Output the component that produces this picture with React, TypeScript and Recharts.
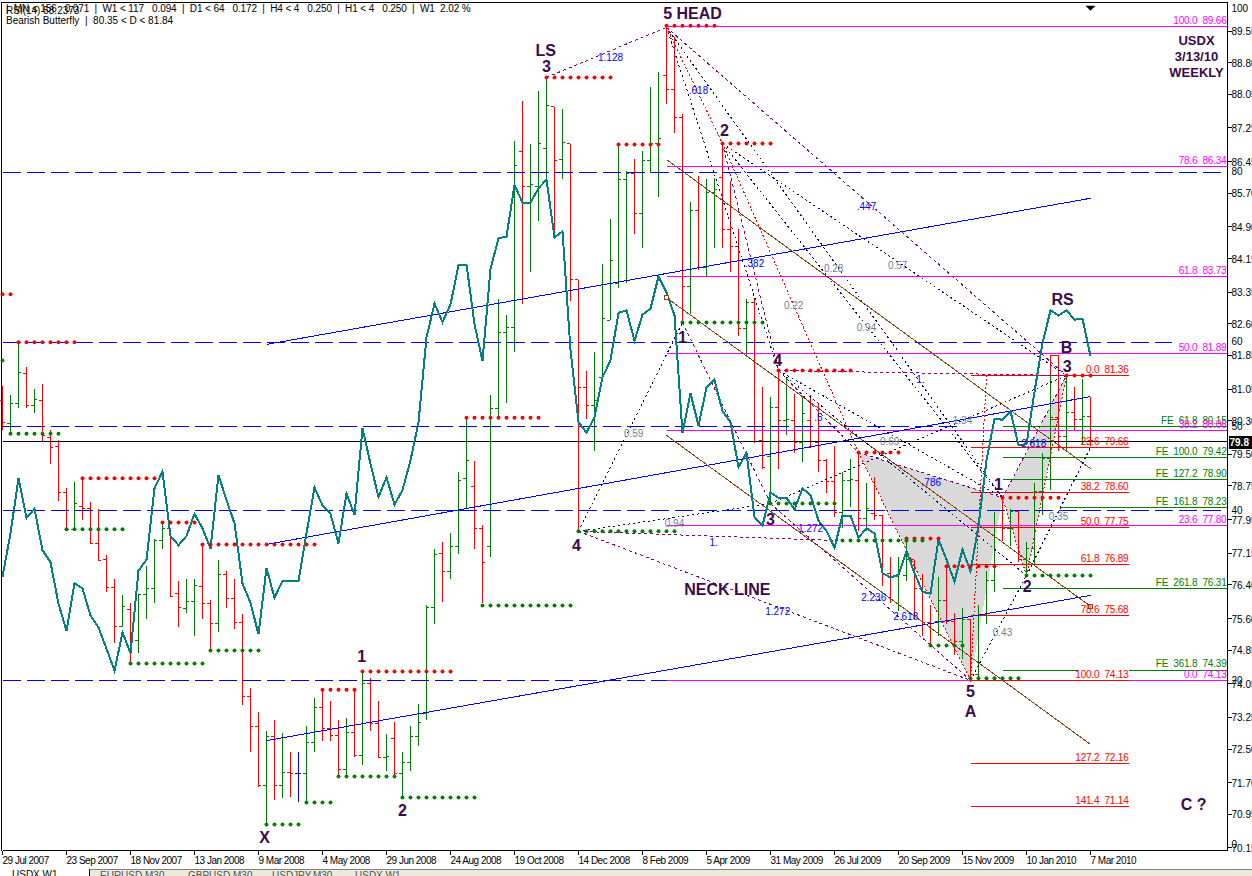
// USDX weekly bars with RSI overlay, harmonic legs and fib levels
import {
  Area,
  Bar,
  ComposedChart,
  Line,
  ReferenceArea,
  ReferenceDot,
  ReferenceLine,
  Scatter,
  XAxis,
  YAxis,
} from "recharts";

const dateLabels = [
  "29 Jul 2007", "23 Sep 2007", "18 Nov 2007", "13 Jan 2008", "9 Mar 2008", "4 May 2008",
  "29 Jun 2008", "24 Aug 2008", "19 Oct 2008", "14 Dec 2008", "8 Feb 2009", "5 Apr 2009",
  "31 May 2009", "26 Jul 2009", "20 Sep 2009", "15 Nov 2009", "10 Jan 2010", "7 Mar 2010",
];
const dateTicks = [0, 8, 16, 24, 32, 40, 48, 56, 64, 72, 80, 88, 96, 104, 112, 120, 128, 136];

const priceTicks = [
  89.55, 88.8, 88.05, 87.25, 86.45, 85.7, 84.9, 84.15, 83.35, 82.6, 81.85, 81.05, 80.3,
  79.5, 78.75, 77.95, 77.15, 76.4, 75.6, 74.85, 74.05, 73.25, 72.5, 71.7, 70.95, 70.15,
];
const rsiTicks = [100, 80, 60, 50, 40, 20, 0];

const opens = [
  80.78,80.23,80.71,81.42,80.66,80.78,79.90,79.69,78.59,77.72,
  78.26,78.21,77.38,77.00,76.34,75.41,75.82,75.08,76.17,76.31,
  77.45,77.74,76.19,75.84,76.00,76.36,75.96,75.48,76.65,76.08,
  75.51,73.75,73.04,71.64,72.80,71.64,71.94,71.92,71.92,72.66,
  73.49,72.99,72.82,72.02,72.89,72.35,74.06,73.11,72.30,72.75,
  71.92,72.18,72.80,73.35,75.86,77.14,76.72,77.31,78.93,78.74,
  77.74,77.31,80.59,82.39,82.51,86.69,85.86,85.86,86.76,87.76,
  86.50,86.88,83.65,81.09,80.66,81.32,82.68,83.56,86.03,86.17,
  85.22,86.48,86.88,88.50,88.16,87.50,83.48,85.29,83.94,85.72,
  86.07,84.84,84.44,82.49,83.11,79.83,79.45,80.61,80.30,80.30,
  79.78,80.30,79.78,79.35,78.85,78.12,78.88,78.88,77.98,78.09,
  78.05,76.67,76.60,76.62,77.00,76.31,75.51,75.53,76.03,75.53,
  75.05,75.58,74.27,75.70,76.50,78.17,77.74,78.14,77.00,77.26,
  78.62,79.40,80.37,79.92,80.49,80.33,80.40,
];
const highs = [
  81.13,80.92,82.16,81.58,81.06,81.16,80.07,79.85,78.71,78.85,
  78.93,78.36,78.21,77.12,76.53,76.17,75.98,76.17,76.84,77.50,
  77.88,77.74,76.48,76.53,76.53,77.36,76.03,77.00,76.72,76.53,
  75.70,73.96,73.39,72.92,73.20,72.87,72.44,72.44,73.04,73.72,
  73.91,73.63,73.18,73.23,73.94,74.34,74.18,73.65,72.85,73.15,
  72.42,73.04,73.56,75.91,77.26,77.41,77.64,79.09,80.37,79.35,
  77.81,80.92,83.18,82.82,86.93,87.88,86.88,88.14,88.45,87.76,
  87.69,86.88,83.65,81.49,81.92,84.03,85.10,86.88,86.24,86.52,
  86.71,88.23,88.57,89.68,89.40,87.59,85.50,86.12,86.03,86.07,
  86.88,86.00,84.86,83.18,83.20,81.09,80.87,81.49,81.32,80.94,
  80.85,80.90,80.71,79.38,79.69,79.07,79.40,79.52,78.83,78.95,
  78.07,77.07,77.07,77.41,77.00,76.65,75.91,76.58,76.84,75.74,
  75.84,75.58,75.93,76.74,78.14,78.47,78.21,78.17,77.41,78.83,
  79.52,81.40,81.85,81.35,81.11,81.28,80.87,
];
const lows = [
  80.07,80.02,80.61,80.61,80.47,79.80,79.28,78.40,77.69,77.72,
  77.95,77.38,76.98,76.22,75.01,75.39,74.53,74.77,75.60,75.96,
  77.26,76.10,75.39,75.74,75.18,75.58,74.84,75.27,75.84,75.34,
  73.54,72.44,71.59,70.73,71.30,71.33,71.37,71.25,71.23,72.42,
  72.70,72.68,71.83,71.87,72.30,72.11,72.92,72.28,71.97,71.83,
  71.35,71.99,72.58,73.20,75.48,76.00,76.53,77.14,78.19,77.24,
  75.96,77.07,80.37,80.71,81.94,83.08,83.84,85.03,86.07,84.65,
  86.05,83.13,77.64,80.35,79.57,81.32,82.68,83.44,83.56,84.74,
  84.41,86.19,85.60,87.83,87.14,82.61,82.84,83.87,83.70,84.41,
  84.41,83.84,82.32,81.85,79.76,79.16,78.33,79.16,79.95,79.52,
  79.31,79.66,79.09,78.59,78.00,77.76,78.26,77.69,77.69,77.93,
  76.38,75.98,75.79,76.48,75.58,75.18,74.96,75.18,75.46,74.74,
  74.65,74.10,74.22,75.46,76.22,77.45,77.33,76.95,76.60,76.88,
  78.05,78.66,79.57,79.57,80.07,79.73,79.69,
];
const closes = [
  80.26,80.71,81.44,80.66,80.80,79.95,79.66,78.59,77.72,78.33,
  78.21,77.38,76.98,76.34,75.41,75.89,75.08,76.17,76.31,77.45,
  77.74,76.12,75.86,76.00,76.38,75.96,75.48,76.65,76.08,75.51,
  73.75,73.04,71.64,72.80,71.64,71.94,71.92,71.92,72.66,73.49,
  72.99,72.82,72.02,72.89,72.35,74.06,73.11,72.30,72.32,71.92,
  72.18,72.80,73.13,75.86,77.12,76.72,77.31,78.88,79.35,77.74,
  76.93,80.59,82.39,82.51,86.36,85.86,85.90,86.88,87.78,86.48,
  86.90,83.65,81.09,80.66,80.78,82.73,84.10,86.03,86.17,85.22,
  86.48,86.88,87.00,88.16,87.50,83.48,85.29,83.94,85.72,85.80,
  84.84,84.44,82.49,83.11,79.80,79.19,80.61,80.30,80.33,79.78,
  80.47,79.80,79.35,78.85,78.12,78.88,78.90,77.98,78.21,78.05,
  76.67,76.60,76.74,77.00,76.31,75.51,75.48,76.03,75.53,75.05,
  75.58,74.27,75.70,76.50,77.76,77.74,78.14,77.00,77.26,78.62,
  79.40,80.37,79.92,80.49,80.33,80.40,79.83,
];
const rsiValues = [
  32.3,37.4,43.9,39.2,40.3,35.4,34.0,29.1,25.9,31.5,
  30.9,27.7,26.3,23.8,21.2,25.7,23.3,33.0,34.3,42.7,
  44.7,37.1,36.0,37.1,39.7,38.0,35.6,44.3,41.3,38.6,
  31.5,29.2,25.5,33.3,29.8,31.8,31.8,31.8,37.4,42.8,
  40.7,39.7,36.2,42.1,39.6,49.8,45.6,41.7,44.0,40.8,
  42.5,46.0,50.5,60.5,64.5,62.3,64.4,69.0,69.1,62.1,
  57.7,68.6,72.2,72.4,78.5,76.4,76.4,78.1,79.1,72.3,
  73.0,59.0,50.5,49.3,51.1,55.8,57.8,63.4,63.7,60.1,
  63.2,63.9,67.7,65.8,63.1,49.2,53.9,50.1,54.6,55.5,
  51.8,50.5,45.2,46.9,39.3,38.3,42.2,41.6,41.6,40.2,
  42.7,41.9,38.9,37.7,35.7,39.5,39.5,36.9,38.0,37.4,
  32.7,32.2,32.5,35.3,32.7,30.5,30.3,36.7,34.3,31.7,
  35.5,32.9,38.3,46.0,50.9,50.8,51.8,47.8,47.9,54.1,
  59.8,63.7,63.1,63.7,62.6,62.7,58.3,
];

// [first bar, last bar, price]
const redDotRuns = [
  [0, 1, 83.3], [2, 9, 82.16], [10, 19, 78.93], [20, 24, 77.88], [25, 39, 77.36],
  [40, 44, 73.91], [45, 56, 74.34], [58, 67, 80.37], [68, 76, 88.45], [77, 82, 86.86],
  [83, 89, 89.68], [90, 96, 86.88], [97, 106, 81.49], [107, 112, 79.54], [113, 117, 77.5],
  [118, 124, 76.84], [125, 132, 78.47], [133, 136, 81.37],
];
const greenDotRuns = [
  [0, 0, 81.73], [1, 7, 79.99], [8, 15, 77.72], [16, 25, 74.53], [26, 32, 74.84],
  [33, 37, 70.71], [38, 41, 71.23], [42, 49, 71.85], [50, 59, 71.35], [60, 71, 75.91],
  [72, 84, 77.67], [85, 95, 82.63], [96, 104, 78.33], [105, 115, 77.45], [116, 120, 74.96],
  [121, 127, 74.18], [128, 136, 76.62],
];

// wave pivots as [bar, price]
const leftShoulder = [68, 88.45];
const head = [83, 89.64];
const pivot1 = [85, 82.63];
const pivot2 = [90, 86.88];
const pivot3 = [96, 78.33];
const pivot4 = [97, 81.49];
const low4 = [72, 77.67];
const pointX = [107, 79.54];
const pointA = [121, 74.13];
const pointB = [125, 78.47];
const pointC = [128, 76.62];
const pointD = [133, 81.37];

const purpleLegs = [
  [leftShoulder, head], [head, pointD], [pivot2, pivot4], [pivot1, pivot3], [pivot3, pointA],
  [low4, [104.5, 77.45]], [low4, pointA], [pivot4, pointD], [pivot4, pointX], [pointX, pointB],
  [pointB, pointD],
];
const navyLegs = [
  [low4, pivot1], [low4, pivot3], [pivot3, pointD], [pointA, pointC], [pointC, [136, 79.66]],
  [pivot2, pointD], [pivot2, pointB], [head, pointB], [head, pivot4], [pivot4, pointB], [pivot4, pointC],
];
const redLegs = [
  [head, pivot2], [pivot2, pointX], [pointX, pointA], [pointA, [123, 81.36]], [pointB, pointC], [pointC, pointD],
];
const blueTrends = [
  [[33, 82.11], [136, 85.58]],
  [[33, 77.36], [136, 80.87]],
  [[33, 72.7], [136, 76.15]],
];
const brownChannels = [
  [[83, 86.5], [136, 79.16]],
  [[83, 83.22], [136, 75.89]],
  [[83, 79.95], [136, 72.61]],
];
const channelBoxes = [[83, 83.22], [136, 75.89]];

// dashed oscillator levels: [level, first bar, last bar]
const rsiLevels = [[80, 0, 152.5], [59.95, 0, 146.2], [50, 0, 119.4], [40.05, 0, 152.5], [20, 0, 83]];

const magentaLevels = [
  ["100.0", 89.66], ["78.6", 86.34], ["61.8", 83.73], ["50.0", 81.89],
  ["38.2", 80.06], ["23.6", 77.8], ["0.0", 74.13],
];
const redLevels = [
  ["0.0", 81.36], ["23.6", 79.66], ["38.2", 78.6], ["50.0", 77.75], ["61.8", 76.89],
  ["78.6", 75.68], ["100.0", 74.13], ["127.2", 72.16], ["141.4", 71.14],
];
const feLevels = [
  ["61.8", 80.15], ["100.0", 79.42], ["127.2", 78.9], ["161.8", 78.23], ["261.8", 76.31], ["361.8", 74.39],
];
const feSpans = [
  [125, 153.125, 80.15], [125, 153.125, 79.42], [125, 153.125, 78.9], [132.2, 153.125, 78.23],
  [125, 153.125, 76.31], [125, 134.4, 74.37], [140.75, 153.125, 74.37],
];

const waveNotes = [
  ["5 HEAD", 86.25, 89.97], ["LS", 67.9, 89.09], ["3", 68, 88.71], ["2", 90.25, 87.19],
  ["1", 85, 82.27], ["4", 96.9, 81.73], ["3", 96, 77.95], ["4", 71.75, 77.34],
  ["1", 44.9, 74.7], ["2", 50, 71.04], ["X", 32.75, 70.4], ["NECK LINE", 90.6, 76.29],
  ["RS", 132.5, 83.18], ["B", 133, 82.04], ["3", 133.1, 81.59], ["1", 124.5, 78.78],
  ["2", 128.1, 76.36], ["5", 121, 73.87], ["A", 121, 73.39], ["C ?", 148.9, 71.18],
];
const titleNotes = [["USDX", 149.25, 89.33], ["3/13/10", 149.25, 88.95], ["WEEKLY", 149.25, 88.57]];
const ratioNotes = [
  ["1.128", 76, 88.92], [".618", 87, 88.14], [".382", 94, 84.03], [".447", 108, 85.39],
  ["1.", 88.9, 77.41], ["1.272", 96.9, 75.77], ["1.272", 101, 77.74], ["2.236", 108.9, 76.1],
  ["2.618", 112.9, 75.65], ["2.618", 128.9, 79.76], [".786", 116.1, 78.83], ["1.", 114.75, 81.28],
  [".5", 102, 80.37],
];
const grayNotes = [
  ["0.94", 84, 77.86], ["0.59", 78.9, 80], ["0.22", 98.9, 83.03], ["0.28", 103.9, 83.91],
  ["0.57", 111.9, 83.98], ["0.94", 108, 82.51], ["1.34", 120, 80.3], ["0.69", 110.9, 79.8],
  ["0.35", 132, 78.02], ["0.43", 125, 75.27],
];

// gray butterfly wings: [bar, lower price, upper price]
const wingLeft = [[107, 79.54, 79.54], [121, 74.13, 78.72], [125, 78.47, 78.47]];
const wingRight = [[125, 78.47, 78.47], [128, 76.62, 79.56], [133, 81.37, 81.37]];

const lastBarPrice = 79.8;
const xMax = 153.125;

const UI_FONT = "'Liberation Sans', Arial, sans-serif";
const DARK = "#3a0a4a";

const rows = opens.map((open, i) => ({
  i,
  open,
  high: highs[i],
  low: lows[i],
  close: closes[i],
  range: [lows[i], highs[i]],
  rsi: rsiValues[i],
}));

const expandRuns = (runs: number[][]) => {
  const pts: { i: number; y: number }[] = [];
  runs.forEach(([from, to, y]) => {
    for (let i = from; i <= to; i++) pts.push({ i, y });
  });
  return pts;
};

const toNotes = (list: any[]) => list.map(([text, i, y]) => ({ text, i, y }));
const wingRows = (list: number[][]) => list.map(([i, lo, hi]) => ({ i, band: [lo, hi] }));

// one OHLC stick, open tick to the left and close tick to the right
const OhlcStick = (props: any) => {
  const { x, y, width, height, payload } = props;
  if (!payload) return null;
  const { open, high, low, close } = payload;
  const mid = x + width / 2;
  const perUnit = height / (high - low);
  const yOpen = y + (high - open) * perUnit;
  const yClose = y + (high - close) * perUnit;
  const color = close > open ? "#008000" : close < open ? "#ff0000" : "#0000cd";
  return (
    <g stroke={color} strokeWidth={1}>
      <line x1={mid} x2={mid} y1={y} y2={y + height} />
      <line x1={mid - 3} x2={mid} y1={yOpen} y2={yOpen} />
      <line x1={mid} x2={mid + 3} y1={yClose} y2={yClose} />
    </g>
  );
};

const dotShape = (color: string) => (props: any) => <circle cx={props.cx} cy={props.cy} r={2} fill={color} />;

const noteShape = (style: any, dy = 0) => (props: any) => (
  <text
    x={props.cx}
    y={props.cy + dy}
    textAnchor={style.anchor || "middle"}
    dominantBaseline="central"
    fontFamily={style.font || UI_FONT}
    fontSize={style.size}
    fontWeight={style.weight || "normal"}
    letterSpacing={style.spacing || 0}
    fill={style.color}
    style={{ whiteSpace: "pre" }}
  >
    {props.payload.text}
  </text>
);

const DateTick = ({ x, y, payload }: any) => (
  <text x={x} y={y + 9} textAnchor="start" fontFamily={UI_FONT} fontSize={10} fill="#000" letterSpacing={-0.5}>
    {dateLabels[dateTicks.indexOf(payload.value)]}
  </text>
);

const PriceTick = ({ x, y, payload }: any) => (
  <text x={x} y={y + 4} textAnchor="start" fontFamily={UI_FONT} fontSize={10} fill="#000">
    {payload.value.toFixed(2)}
  </text>
);

const RsiTick = (props: any) => (
  <text
    x={props.cx + 4}
    y={Math.min(Math.max(props.cy, 9), 845) + 3}
    fontFamily={UI_FONT}
    fontSize={10}
    fill="#000"
  >
    {props.payload.y}
  </text>
);

const PriceTag = (props: any) => (
  <g>
    <rect x={props.cx + 1} y={props.cy - 6} width={24} height={13} fill="#000" />
    <text x={props.cx + 2} y={props.cy + 4} fontFamily={UI_FONT} fontSize={10} fontWeight="bold" fill="#fff">
      {props.payload.y}
    </text>
  </g>
);

const BoxMark = (props: any) => (
  <rect x={props.cx - 2} y={props.cy - 2} width={4} height={4} fill="#fff" stroke="#8b4513" />
);

const CaretMark = (props: any) => (
  <polygon points={`${props.cx - 5},${props.cy} ${props.cx + 5},${props.cy} ${props.cx},${props.cy + 5}`} fill="#000" />
);

const Legs = (legs: any[], color: string, dash: string | undefined, prefix: string) =>
  legs.map(([a, b], k) => (
    <ReferenceLine
      key={prefix + k}
      yAxisId="price"
      segment={[{ x: a[0], y: a[1] }, { x: b[0], y: b[1] }]}
      stroke={color}
      strokeWidth={1}
      strokeDasharray={dash}
    />
  ));

const tabNames = ["EURUSD,M30", "GBPUSD,M30", "USDJPY,M30", "USDX,W1"];
const tabLefts = [100, 188, 272, 355];

export default function App() {
  return (
    <div style={{ position: "absolute", left: 0, top: 0, width: 1252, height: 876, background: "#fff", overflow: "hidden" }}>
      <style>{".recharts-surface line, .recharts-surface path, .recharts-surface rect { shape-rendering: crispEdges; }"}</style>
      <div style={{ position: "absolute", left: 1, top: 2, width: 1226, height: 848, borderLeft: "1px solid #000", borderTop: "1px solid #000" }} />

      {/* half-pixel margins so 1px strokes land on whole pixel rows and columns */}
      <ComposedChart
        width={1252}
        height={876}
        data={rows}
        margin={{ top: 2.5, right: 0, bottom: 0, left: 2.5 }}
        style={{ position: "absolute", left: 0, top: 0 }}
      >
        <XAxis
          dataKey="i"
          type="number"
          domain={[0, xMax]}
          ticks={dateTicks}
          interval={0}
          height={25.5}
          tick={<DateTick />}
          tickSize={4}
          tickMargin={0}
          stroke="#000"
        />
        <YAxis
          yAxisId="price"
          orientation="right"
          type="number"
          domain={[70.09, 90.23]}
          ticks={priceTicks}
          interval={0}
          width={24.5}
          tick={<PriceTick />}
          tickSize={4}
          tickMargin={0}
          stroke="#000"
        />
        <YAxis yAxisId="rsi" orientation="right" type="number" domain={[0, 100]} hide />

        <Area data={wingRows(wingLeft)} yAxisId="price" dataKey="band" type="linear" stroke="none" fill="#d9d9d9" fillOpacity={1} dot={false} activeDot={false} isAnimationActive={false} />
        <Area data={wingRows(wingRight)} yAxisId="price" dataKey="band" type="linear" stroke="none" fill="#d9d9d9" fillOpacity={1} dot={false} activeDot={false} isAnimationActive={false} />

        {rsiLevels.map(([level, from, to]) => (
          <ReferenceLine
            key={"rsi" + level}
            yAxisId="rsi"
            segment={[{ x: from, y: level }, { x: to, y: level }]}
            stroke="#0000ff"
            strokeDasharray="18 6"
          />
        ))}

        <ReferenceLine yAxisId="price" y={lastBarPrice} stroke="#000" />

        {magentaLevels.map(([pct, price]) => (
          <ReferenceLine key={"m" + pct} yAxisId="price" segment={[{ x: 83, y: price }, { x: xMax, y: price }]} stroke="#ff00ff" />
        ))}
        {feSpans.map(([from, to, price], k) => (
          <ReferenceLine key={"fe" + k} yAxisId="price" segment={[{ x: from, y: price }, { x: to, y: price }]} stroke="#008000" />
        ))}
        {redLevels.map(([pct, price]) => (
          <ReferenceLine key={"r" + pct} yAxisId="price" segment={[{ x: 121, y: price }, { x: 140.75, y: price }]} stroke="#ff0000" />
        ))}

        {Legs(blueTrends, "#0000ff", undefined, "blue")}
        {Legs(brownChannels, "#8b4513", undefined, "brown")}
        {Legs(purpleLegs, "#800080", "3 3", "purple")}
        {Legs(navyLegs, "#000080", "2 3", "navy")}
        {Legs(redLegs, "#ff0000", "2 2", "redleg")}

        <ReferenceArea yAxisId="price" x1={131} x2={132} y1={80.33} y2={81.85} fill="none" stroke="#ff0000" ifOverflow="visible" />

        <Bar yAxisId="price" dataKey="range" barSize={6} shape={<OhlcStick />} isAnimationActive={false} />

        <Scatter data={expandRuns(redDotRuns)} yAxisId="price" dataKey="y" shape={dotShape("#ff0000")} isAnimationActive={false} />
        <Scatter data={expandRuns(greenDotRuns)} yAxisId="price" dataKey="y" shape={dotShape("#008000")} isAnimationActive={false} />

        <Line yAxisId="rsi" dataKey="rsi" type="linear" stroke="#008080" strokeWidth={2} dot={false} activeDot={false} isAnimationActive={false} />

        {channelBoxes.map(([i, price], k) => (
          <ReferenceDot key={"box" + k} yAxisId="price" x={i} y={price} shape={<BoxMark />} />
        ))}
        <ReferenceDot yAxisId="price" x={136} y={90.15} shape={<CaretMark />} />

        <Scatter
          data={feLevels.map(([pct, price]) => ({ text: `FE  ${pct}  ${(price as number).toFixed(2)}`, i: 153, y: price }))}
          yAxisId="price" dataKey="y" shape={noteShape({ color: "#008000", size: 10, spacing: -0.2, anchor: "end" }, -6)} isAnimationActive={false}
        />
        <Scatter
          data={magentaLevels.map(([pct, price]) => ({ text: `${pct}  ${(price as number).toFixed(2)}`, i: 153, y: price }))}
          yAxisId="price" dataKey="y" shape={noteShape({ color: "#ff00ff", size: 10, spacing: -0.2, anchor: "end" }, -6)} isAnimationActive={false}
        />
        <Scatter
          data={redLevels.map(([pct, price]) => ({ text: `${pct}  ${(price as number).toFixed(2)}`, i: 140.75, y: price }))}
          yAxisId="price" dataKey="y" shape={noteShape({ color: "#ff0000", size: 10, spacing: -0.2, anchor: "end" }, -6)} isAnimationActive={false}
        />
        <Scatter data={toNotes(ratioNotes)} yAxisId="price" dataKey="y" shape={noteShape({ color: "#0000ff", size: 10 })} isAnimationActive={false} />
        <Scatter data={toNotes(grayNotes)} yAxisId="price" dataKey="y" shape={noteShape({ color: "#708090", size: 10 })} isAnimationActive={false} />
        <Scatter data={toNotes(waveNotes)} yAxisId="price" dataKey="y" shape={noteShape({ color: DARK, size: 16, weight: "bold" })} isAnimationActive={false} />
        <Scatter data={toNotes(titleNotes)} yAxisId="price" dataKey="y" shape={noteShape({ color: DARK, size: 13, weight: "bold", font: "'Liberation Sans Narrow', 'Liberation Sans', sans-serif" })} isAnimationActive={false} />

        <Scatter data={rsiTicks.map((y) => ({ i: xMax, y }))} yAxisId="rsi" dataKey="y" shape={<RsiTick />} isAnimationActive={false} />
        <Scatter data={[{ i: xMax, y: lastBarPrice }]} yAxisId="price" dataKey="y" shape={<PriceTag />} isAnimationActive={false} />
      </ComposedChart>

      <div style={{ position: "absolute", left: 6, top: 5, font: `10px ${UI_FONT}`, color: "#000", whiteSpace: "pre" }}>RSI(14) 58.2373</div>
      <div style={{ position: "absolute", left: 6, top: 3, font: `10px ${UI_FONT}`, letterSpacing: -0.1, color: "#000", whiteSpace: "pre" }}>
        {"|  MN < 156   0.071  |  W1 < 117   0.094  |  D1 < 64   0.172  |  H4 < 4   0.250  |  H1 < 4   0.250  |  W1  2.02 %"}
      </div>
      <div style={{ position: "absolute", left: 6, top: 15, font: `10px ${UI_FONT}`, color: "#000", whiteSpace: "pre" }}>
        {"Bearish Butterfly  |  80.35 < D < 81.84"}
      </div>

      <div style={{ position: "absolute", left: 89, top: 869, right: 0, height: 7, background: "#ece9d8", borderTop: "1px solid #808080", borderLeft: "1px solid #000", overflow: "hidden" }}>
        {tabNames.map((name, k) => (
          <span key={name} style={{ position: "absolute", left: tabLefts[k] - 90, top: 0, font: `10px ${UI_FONT}`, color: "#555", whiteSpace: "pre" }}>{name}</span>
        ))}
      </div>
      <div style={{ position: "absolute", left: 12, top: 869, height: 7, overflow: "hidden", font: `10px ${UI_FONT}`, color: "#000" }}>USDX,W1</div>
    </div>
  );
}
